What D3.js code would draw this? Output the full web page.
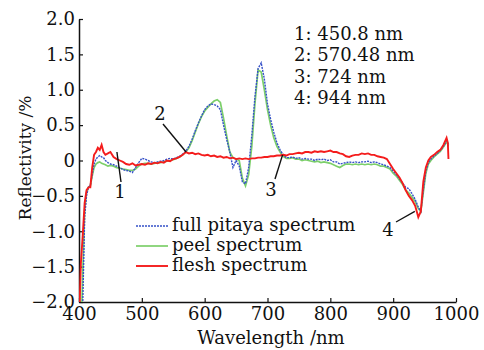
<!DOCTYPE html>
<html><head><meta charset="utf-8">
<script src="https://cdn.jsdelivr.net/npm/d3@7/dist/d3.min.js"></script>
<style>
body{margin:0;background:#fff;}
svg text{font-family:"DejaVu Serif",serif;fill:#111;}
</style></head>
<body><svg id="c" width="484" height="350"></svg>
<script>
const wavelength = [
400,403,406,409,412,415,418,421,424,427,
430,433,436,439,442,446,450,455,460,465,
470,475,480,485,490,495,500,505,510,515,
520,525,530,535,540,545,550,555,560,565,
570,575,580,585,590,595,600,605,610,615,
620,625,630,635,640,645,650,655,660,665,
670,675,680,685,690,695,700,705,710,715,
720,725,730,735,740,745,750,755,760,765,
770,775,780,785,790,795,800,805,810,815,
820,825,830,835,840,845,850,855,860,865,
870,875,880,885,890,895,900,905,910,915,
920,925,930,935,940,944,948,952,956,960,
965,970,975,980,985,987,988];

const fleshValues = [
-2.3,-1.45,-1.05,-0.6,-0.42,-0.38,-0.38,-0.1,0.08,0.12,
0.18,0.15,0.22,0.12,0.08,0.1,0.12,0.05,0.02,0.0,
-0.02,-0.05,-0.06,-0.04,-0.07,-0.06,-0.05,-0.06,-0.04,-0.05,
-0.03,-0.04,-0.02,-0.03,0.0,-0.01,0.02,0.03,0.05,0.08,
0.12,0.1,0.11,0.09,0.1,0.08,0.07,0.08,0.06,0.07,
0.05,0.06,0.04,0.05,0.03,0.04,0.02,0.03,0.02,0.03,
0.02,0.03,0.03,0.04,0.04,0.05,0.05,0.06,0.06,0.07,
0.07,0.08,0.07,0.09,0.09,0.1,0.11,0.1,0.12,0.12,
0.11,0.13,0.12,0.13,0.12,0.13,0.14,0.12,0.12,0.1,
0.09,0.06,0.05,0.07,0.08,0.08,0.1,0.09,0.1,0.08,
0.08,0.06,0.05,0.04,0.02,-0.05,-0.12,-0.18,-0.24,-0.32,
-0.42,-0.5,-0.56,-0.64,-0.8,-0.72,-0.3,-0.1,0.0,0.05,
0.08,0.12,0.15,0.22,0.32,0.25,0.02];

const fullValues = [
-3,-2.8,-2.0,-0.8,-0.5,-0.38,-0.35,-0.2,-0.05,0.02,
0.05,0.07,0.05,0.04,0.0,-0.03,-0.05,-0.06,-0.08,-0.1,
-0.13,-0.14,-0.15,-0.17,-0.1,-0.03,0.03,0.02,0.0,-0.02,
-0.03,-0.02,-0.01,0.0,0.02,0.03,0.02,0.04,0.06,0.09,
0.13,0.2,0.3,0.42,0.53,0.63,0.72,0.77,0.8,0.79,
0.77,0.72,0.5,0.3,0.12,-0.1,0.0,-0.08,-0.3,-0.33,
-0.1,0.35,0.9,1.3,1.38,1.15,0.8,0.58,0.4,0.25,
0.15,0.08,0.04,0.04,0.05,0.03,0.04,0.02,0.03,0.02,
0.02,0.0,0.02,0.01,0.02,0.0,0.01,-0.02,-0.02,-0.05,
-0.04,-0.03,-0.02,-0.03,-0.02,-0.03,-0.02,-0.02,-0.01,-0.03,
-0.02,-0.03,-0.05,-0.06,-0.08,-0.1,-0.15,-0.2,-0.26,-0.32,
-0.38,-0.4,-0.47,-0.55,-0.66,-0.72,-0.42,-0.15,-0.03,0.02,
0.06,0.1,0.14,0.2,0.28,0.24,0.2];

const peelValues = [
-3,-2.5,-1.6,-0.7,-0.45,-0.38,-0.36,-0.22,-0.1,-0.05,
-0.03,-0.02,-0.04,-0.05,-0.06,-0.08,-0.07,-0.08,-0.1,-0.11,
-0.12,-0.13,-0.14,-0.14,-0.12,-0.08,-0.05,-0.04,-0.04,-0.05,
-0.04,-0.03,-0.03,-0.02,-0.01,0.0,0.01,0.03,0.05,0.08,
0.12,0.18,0.28,0.4,0.52,0.62,0.7,0.75,0.8,0.84,
0.86,0.82,0.6,0.35,0.12,0.04,0.02,0.0,-0.25,-0.36,
-0.2,0.2,0.8,1.28,1.25,1.0,0.72,0.5,0.32,0.2,
0.12,0.06,0.03,0.03,0.04,0.02,0.02,0.0,0.01,0.0,
-0.01,-0.02,-0.01,-0.03,-0.02,-0.03,-0.04,-0.06,-0.08,-0.1,
-0.07,-0.05,-0.05,-0.06,-0.05,-0.06,-0.05,-0.06,-0.05,-0.06,
-0.05,-0.06,-0.08,-0.08,-0.1,-0.12,-0.18,-0.22,-0.28,-0.34,
-0.42,-0.46,-0.52,-0.58,-0.68,-0.72,-0.45,-0.18,-0.05,0.0,
0.05,0.09,0.13,0.19,0.26,0.24,0.22];

const xTicks = [400,500,600,700,800,900,1000];
const yTicks = [-2.0,-1.5,-1.0,-0.5,0,0.5,1.0,1.5,2.0];
const seriesNames = ["full pitaya spectrum","peel spectrum","flesh spectrum"];
const markerLabels = ["1: 450.8 nm","2: 570.48 nm","3: 724 nm","4: 944 nm"];
const markerWl = [450.8, 570.48, 724, 944];
const markerNums = ["1","2","3","4"];

const svg = d3.select("#c");
const x = d3.scaleLinear().domain([400,1000]).range([79,456]);
const y = d3.scaleLinear().domain([-2,2]).range([302,19]);

svg.append("clipPath").attr("id","clip").append("rect")
  .attr("x",79).attr("y",19).attr("width",377).attr("height",283);

const fs = 18;
const fmt = d => d===0 ? "0" : d3.format(".1f")(d);

const gx = svg.append("g").attr("transform","translate(0,302)")
  .call(d3.axisBottom(x).tickValues(xTicks).tickSizeInner(-4).tickSizeOuter(0).tickPadding(5).tickFormat(d3.format("d")));
const gy = svg.append("g").attr("transform","translate(79,0)")
  .call(d3.axisLeft(y).tickValues(yTicks).tickSizeInner(-4).tickSizeOuter(0).tickPadding(4).tickFormat(fmt));
[gx,gy].forEach(g=>{
  g.selectAll("text").style("font-size",fs+"px").style("font-family","DejaVu Serif").attr("fill","#111");
  g.select(".domain").attr("stroke","#111").attr("stroke-width",1.5);
  g.selectAll(".tick line").attr("stroke","#111").attr("stroke-width",1.2);
});

const line = vals => d3.line().x((d,i)=>x(wavelength[i])).y(d=>y(d))(vals);
const plot = svg.append("g").attr("clip-path","url(#clip)");
plot.append("path").attr("d",line(peelValues)).attr("fill","none").attr("stroke","#7ccf6a").attr("stroke-width",1.7);
plot.append("path").attr("d",line(fullValues)).attr("fill","none").attr("stroke","#3550c8").attr("stroke-width",1.4).attr("stroke-dasharray","2,1");
plot.append("path").attr("d",line(fleshValues)).attr("fill","none").attr("stroke","#f41c1c").attr("stroke-width",1.9);

// leader lines
const idx = w => { let b=0; wavelength.forEach((v,i)=>{ if(Math.abs(v-w)<Math.abs(wavelength[b]-w)) b=i; }); return b; };
const leaders = [
  {n:0, tx:120, ty:198, lx:121, ly:182, dx:6, src:fleshValues},
  {n:1, tx:160, ty:120, lx:163, ly:124, dx:0, src:fleshValues},
  {n:2, tx:271, ty:196, lx:275, ly:179, dx:0, src:fullValues},
  {n:3, tx:388, ty:236, lx:396, ly:222, dx:-6, src:fullValues}
];
leaders.forEach(L=>{
  const w = markerWl[L.n];
  svg.append("line").attr("x1",L.lx).attr("y1",L.ly)
    .attr("x2",x(w)+L.dx).attr("y2",y(L.src[idx(w)]))
    .attr("stroke","#111").attr("stroke-width",1.4);
  svg.append("text").attr("x",L.tx).attr("y",L.ty).attr("text-anchor","middle")
    .style("font-size",fs+"px").text(markerNums[L.n]);
});

// marker text block
markerLabels.forEach((t,i)=>{
  svg.append("text").attr("x",294).attr("y",40+i*21.3).style("font-size",fs+"px").text(t);
});

// legend
const legColors = ["#3550c8","#7ccf6a","#f41c1c"];
const legDash = ["2,1",null,null];
const legW = [1.4,1.7,1.9];
seriesNames.forEach((s,i)=>{
  const yy = 226 + i*20;
  svg.append("line").attr("x1",136).attr("x2",168).attr("y1",yy).attr("y2",yy)
    .attr("stroke",legColors[i]).attr("stroke-width",legW[i]).attr("stroke-dasharray",legDash[i]);
  svg.append("text").attr("x",172).attr("y",yy+5).style("font-size",fs+"px").text(s);
});

// axis titles
svg.append("text").attr("x",271).attr("y",344).attr("text-anchor","middle").style("font-size",fs+"px").text("Wavelength /nm");
svg.append("text").attr("transform","translate(31,158) rotate(-90)").attr("text-anchor","middle").style("font-size","17px").text("Reflectivity /%");
</script></body></html>
